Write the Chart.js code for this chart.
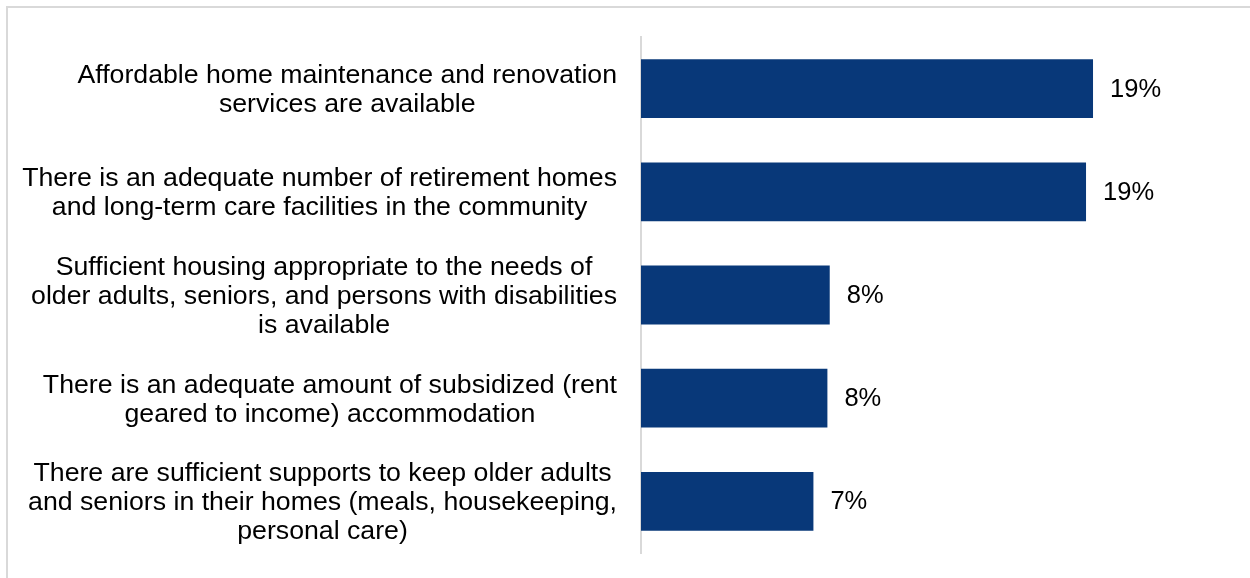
<!DOCTYPE html>
<html>
<head>
<meta charset="utf-8">
<script src="https://cdn.jsdelivr.net/npm/chart.js@4.4.0/dist/chart.umd.min.js"></script>
<style>
    html, body { margin: 0; padding: 0; background: #fff; overflow: hidden; }
    #frame {
        position: absolute; left: 6px; top: 6px;
        width: 1300px; height: 640px;
        border: 2px solid #d9d9d9;
    }
    #chart { position: absolute; left: 0; top: 0; }
</style>
</head>
<body>
<div id="frame"></div>
<canvas id="chart" width="1250" height="578"></canvas>
<script>
// statements, one entry per bar (lines as wrapped)
const statements = [
    ['Affordable home maintenance and renovation', 'services are available'],
    ['There is an adequate number of retirement homes', 'and long-term care facilities in the community'],
    ['Sufficient housing appropriate to the needs of', 'older adults, seniors, and persons with disabilities', 'is available'],
    ['There is an adequate amount of subsidized (rent', 'geared to income) accommodation'],
    ['There are sufficient supports to keep older adults', 'and seniors in their homes (meals, housekeeping,', 'personal care)']
]
const percents = [19.4, 19.1, 8.1, 8.0, 7.4]
const xMax = 25

const LABEL_FONT = '26.7px "Liberation Sans", Arial, sans-serif'
const VALUE_FONT = '25.5px "Liberation Sans", Arial, sans-serif'
const barColor = '#083879'

// category labels, each block centred on its own widest line
const statementLabels = {
    id: 'statementLabels',
    afterDraw(chart) {
        const ctx = chart.ctx
        const y = chart.scales.y
        const right = chart.chartArea.left - 24
        const lh = 29
        ctx.save()
        ctx.font = LABEL_FONT
        ctx.fillStyle = '#000'
        ctx.textAlign = 'center'
        ctx.textBaseline = 'middle'
        statements.forEach((lines, i) => {
            const w = Math.max(...lines.map(l => ctx.measureText(l).width))
            const cx = right - w / 2
            const cy = y.getPixelForValue(i) + 1.5
            const top = cy - (lines.length - 1) * lh / 2
            lines.forEach((l, j) => ctx.fillText(l, cx, top + j * lh))
        })
        ctx.restore()
    }
}

// percentage at the end of each bar
const valueLabels = {
    id: 'valueLabels',
    afterDatasetsDraw(chart) {
        const ctx = chart.ctx
        const meta = chart.getDatasetMeta(0)
        ctx.save()
        ctx.font = VALUE_FONT
        ctx.fillStyle = '#000'
        ctx.textAlign = 'left'
        ctx.textBaseline = 'middle'
        meta.data.forEach((bar, i) => {
            ctx.fillText(Math.round(percents[i]) + '%', bar.x + 17, bar.y + 1)
        })
        ctx.restore()
    }
}

new Chart(document.getElementById('chart'), {
    type: 'bar',
    data: {
        labels: statements.map(s => s.join(' ')),
        datasets: [{
            data: percents,
            backgroundColor: barColor,
            borderWidth: 0,
            barPercentage: 0.57,
            categoryPercentage: 1
        }]
    },
    options: {
        indexAxis: 'y',
        responsive: false,
        animation: false,
        layout: { padding: { top: 37, bottom: 25, left: 0, right: 1250 - 641 - 23.3 * xMax } },
        plugins: { legend: { display: false }, tooltip: { enabled: false } },
        scales: {
            x: { display: false, min: 0, max: xMax },
            y: {
                ticks: { display: false },
                grid: { display: false },
                border: { display: true, color: '#d9d9d9', width: 2 },
                afterFit(scale) { scale.width = 641 }
            }
        }
    },
    plugins: [statementLabels, valueLabels]
})
</script>
</body>
</html>
